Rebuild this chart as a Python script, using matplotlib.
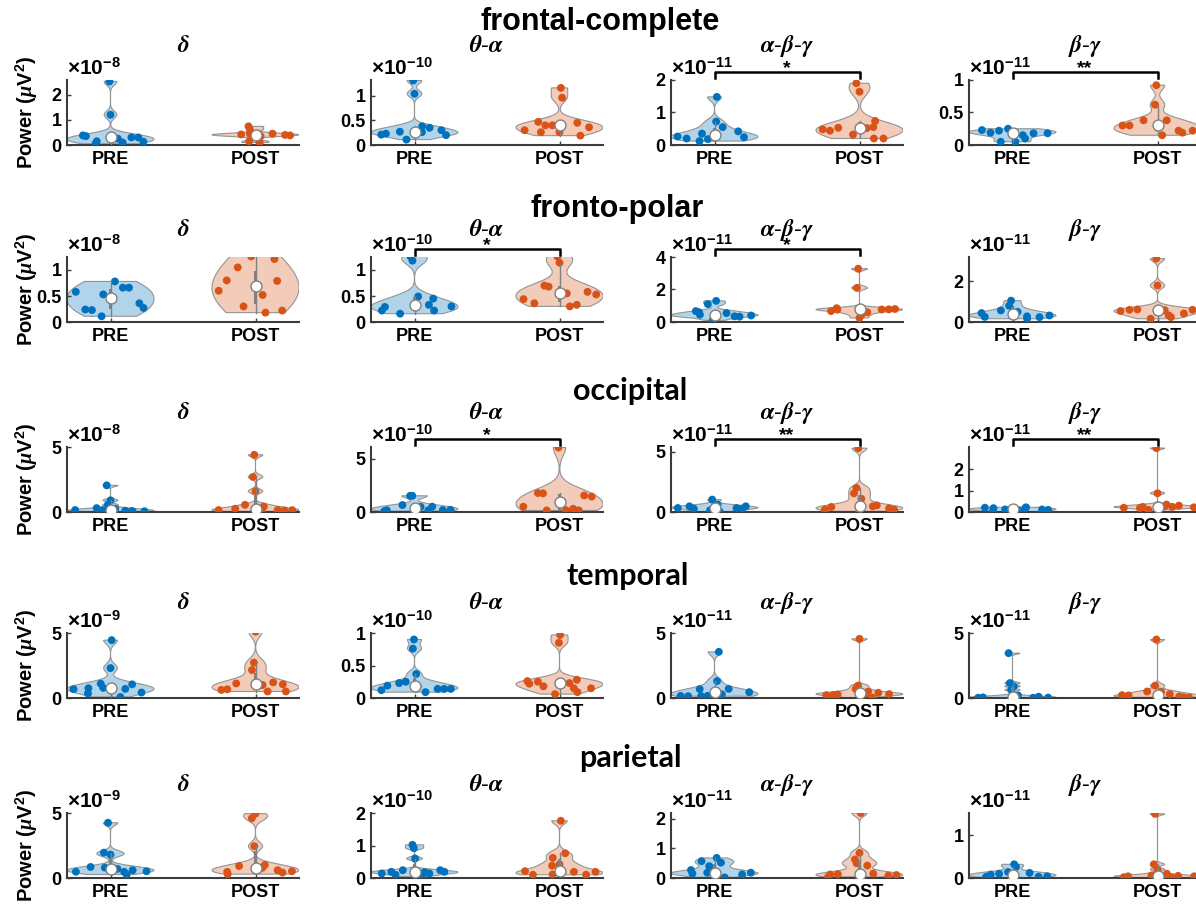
import numpy as np
import matplotlib
matplotlib.use('Agg')
import matplotlib.pyplot as plt
from matplotlib.colors import to_rgba

plt.rcParams['font.family'] = ['Liberation Sans', 'DejaVu Sans']
plt.rcParams['font.weight'] = 'bold'
plt.rcParams['mathtext.fontset'] = 'custom'
plt.rcParams['mathtext.rm'] = 'Liberation Sans:bold'
plt.rcParams['mathtext.bf'] = 'Liberation Sans:bold'
plt.rcParams['mathtext.it'] = 'Liberation Serif:italic'
plt.rcParams['mathtext.fallback'] = 'stix'

# ---------------- data ----------------
regions = ['frontal-complete', 'fronto-polar', 'occipital', 'temporal', 'parietal']
bands = [r'$\delta$', r'$\theta$-$\alpha$', r'$\alpha$-$\beta$-$\gamma$', r'$\beta$-$\gamma$']
groups = ['PRE', 'POST']

exponents = [[-8, -10, -11, -11],
             [-8, -10, -11, -11],
             [-8, -10, -11, -11],
             [-9, -10, -11, -11],
             [-9, -10, -11, -11]]

ytick_values = [[[0, 1, 2], [0, 0.5, 1], [0, 1, 2], [0, 0.5, 1]],
                [[0, 0.5, 1], [0, 0.5, 1], [0, 2, 4], [0, 2]],
                [[0, 5], [0, 5], [0, 5], [0, 1, 2]],
                [[0, 5], [0, 0.5, 1], [0, 5], [0, 5]],
                [[0, 5], [0, 1, 2], [0, 1, 2], [0, 1]]]

ylim_tops = [[2.58, 1.32, 2.0, 1.0],
             [1.25, 1.25, 4.0, 3.2],
             [5.0, 6.1, 5.4, 3.05],
             [5.0, 1.0, 5.0, 5.0],
             [5.0, 2.0, 2.2, 1.52]]

significance = [['', '', '*', '**'],
                ['', '*', '*', ''],
                ['', '*', '**', '**'],
                ['', '', '', ''],
                ['', '', '', '']]

# values in units of 10^exponent, per band (delta, theta-alpha, alpha-beta-gamma, beta-gamma)
frontal_complete_pre = [
    [0.38, 0.35, 0.05, 0.15, 2.52, 1.2, 0.25, 0.1, 0.3, 0.3, 0.13],
    [0.21, 0.23, 0.11, 0.27, 1.31, 1.04, 0.26, 0.38, 0.35, 0.3, 0.2],
    [0.26, 0.2, 0.12, 0.35, 0.18, 0.3, 0.72, 1.48, 0.55, 0.24, 0.42],
    [0.23, 0.05, 0.19, 0.22, 0.25, 0.2, 0.05, 0.15, 0.18, 0.1, 0.18]]
frontal_complete_post = [
    [0.74, 0.62, 0.15, 0.42, 0.45, 0.38, 0.35, 0.1, 0.45, 0.4, 0.38],
    [0.30, 0.47, 0.26, 0.40, 0.40, 0.26, 1.16, 0.96, 0.45, 0.36, 0.19],
    [0.48, 0.44, 0.53, 1.9, 0.32, 1.64, 0.52, 0.55, 0.2, 0.74, 0.2],
    [0.3, 0.3, 0.38, 0.62, 0.92, 0.27, 0.15, 0.38, 0.22, 0.19, 0.22]]
fronto_polar_pre = [
    [0.58, 0.24, 0.23, 0.11, 0.53, 0.46, 0.78, 0.66, 0.66, 0.36, 0.27],
    [0.22, 0.29, 0.16, 1.26, 1.18, 0.35, 0.49, 0.33, 0.22, 0.45, 0.3],
    [0.67, 1.1, 0.6, 0.45, 0.1, 0.4, 1.3, 0.55, 0.35, 0.33, 0.4],
    [0.44, 0.25, 0.57, 0.8, 1.05, 0.37, 0.5, 0.28, 0.16, 0.24, 0.32]]
fronto_polar_post = [
    [0.6, 0.8, 1.05, 0.3, 1.26, 0.69, 0.52, 0.18, 0.79, 1.21, 0.22],
    [0.44, 0.36, 0.7, 0.68, 1.26, 1.14, 0.55, 0.3, 0.33, 0.58, 0.53],
    [0.67, 0.85, 0.76, 2.1, 3.28, 0.25, 0.45, 0.6, 0.77, 0.78, 0.8],
    [0.54, 0.6, 0.62, 0.16, 3.12, 1.8, 0.58, 0.33, 0.24, 0.42, 0.6]]
occipital_pre = [
    [0.15, 0.3, 2.05, 0.55, 0.14, 0.9, 0.25, 0.1, 0.08, 0.02, 0.06],
    [0.08, 0.16, 0.65, 1.52, 1.52, 0.4, 0.48, 0.16, 0.5, 0.18, 0.2],
    [0.33, 0.47, 0.28, 1.03, 0.14, 0.42, 0.62, 0.03, 0.33, 0.28, 0.47],
    [0.2, 0.04, 0.18, 0.01, 0.12, 0.11, 0.08, 0.18, 0.22, 0.12, 0.1]]
occipital_post = [
    [0.15, 0.55, 0.25, 2.7, 4.4, 1.6, 0.05, 0.42, 0.15, 0.12, 0.14],
    [0.5, 1.78, 1.75, 0.15, 6.05, 0.95, 0.17, 0.3, 0.15, 1.55, 1.45],
    [0.2, 0.42, 1.55, 2.0, 5.3, 0.05, 1.1, 0.47, 0.55, 0.3, 0.2],
    [0.2, 0.1, 0.18, 0.24, 3.0, 0.88, 0.26, 0.24, 0.35, 0.3, 0.22]]
temporal_pre = [
    [0.68, 0.35, 0.75, 1.1, 0.78, 2.3, 4.45, 0.7, 0.08, 1.05, 0.42],
    [0.12, 0.19, 0.23, 0.25, 0.76, 0.9, 0.18, 0.37, 0.09, 0.14, 0.14, 0.14],
    [0.16, 0.14, 0.68, 0.15, 0.17, 0.5, 0.28, 1.3, 0.7, 3.55, 0.45],
    [0.02, 0.05, 3.45, 1.15, 0.62, 0.08, 0.9, 0.2, 0.02, 0.1, 0.03]]
temporal_post = [
    [0.62, 0.67, 1.12, 2.15, 2.72, 5.1, 1.0, 0.5, 1.2, 1.05, 0.5],
    [0.26, 0.22, 0.25, 0.18, 0.06, 0.85, 0.97, 0.23, 0.15, 0.28, 0.09, 0.15],
    [0.22, 0.22, 0.27, 0.7, 0.95, 4.55, 0.35, 0.49, 0.4, 0.3, 0.03],
    [0.22, 0.2, 0.5, 0.95, 4.5, 0.1, 0.48, 0.3, 0.12, 0.06, 0.05]]
parietal_pre = [
    [0.48, 0.85, 1.95, 4.25, 0.8, 1.8, 0.7, 0.47, 0.6, 0.27, 0.52],
    [0.14, 0.1, 0.19, 0.24, 1.02, 0.92, 0.6, 0.18, 0.14, 0.04, 0.19, 0.24],
    [0.27, 0.57, 0.15, 0.4, 0.18, 0.15, 0.68, 0.52, 0.02, 0.12, 0.18],
    [0.01, 0.03, 0.08, 0.1, 0.14, 0.08, 0.32, 0.26, 0.12, 0.03, 0.04]]
parietal_post = [
    [0.3, 0.47, 0.92, 4.6, 2.45, 4.95, 0.78, 1.0, 0.6, 0.42, 0.52],
    [0.21, 0.1, 0.62, 0.38, 0.11, 0.42, 1.76, 0.19, 0.76, 0.1, 0.19],
    [0.04, 0.12, 0.13, 0.63, 0.5, 0.85, 2.2, 0.15, 0.42, 0.08, 0.1],
    [0.02, 0.04, 0.32, 1.5, 0.06, 0.2, 0.01, 0.02, 0.05, 0.1, 0.04]]

pre_data = [frontal_complete_pre, fronto_polar_pre, occipital_pre, temporal_pre, parietal_pre]
post_data = [frontal_complete_post, fronto_polar_post, occipital_post, temporal_post, parietal_post]

# ---------------- style / layout ----------------
colors = ['#0072BD', '#D95319']
GRAY = (0.5, 0.5, 0.5)
AXCOL = '#3c3c3c'
W, H = 1196, 905
col_left_px = [67, 371, 671, 969]
ax_w_px, ax_h_px = 232, 65
row_bottom_px = [145, 322, 512, 698, 878]
row_title_y_px = [22, 209, 391, 576, 758]
row_title_x_px = [600, 617, 630, 628, 630]
subtitle_gap_px = [34, 27, 34, 30, 28]
title_fonts = [['Liberation Sans'], ['Liberation Sans'], ['Lato', 'Liberation Sans'],
               ['Lato', 'Liberation Sans'], ['Lato', 'Liberation Sans']]


def kde(data, grid):
    n = len(data)
    med = np.median(data)
    sig = np.median(np.abs(data - med)) / 0.6745
    if sig <= 0:
        sig = np.ptp(data)
    bw = sig * (4.0 / (3.0 * n)) ** 0.2
    z = (grid[:, None] - data[None, :]) / bw
    return np.exp(-0.5 * z ** 2).sum(axis=1) / (n * bw * np.sqrt(2 * np.pi))


def violin(ax, vals, pos, color):
    data = np.asarray(vals, dtype=float)
    grid = np.linspace(data.min(), data.max(), 300)
    dens = kde(data, grid)
    hw = 0.3 * dens / dens.max()
    xs = np.r_[pos + hw, (pos - hw)[::-1]]
    ys = np.r_[grid, grid[::-1]]
    ax.fill(xs, ys, facecolor=to_rgba(color, 0.3), edgecolor=(0.58, 0.58, 0.58),
            lw=0.8, zorder=1)
    n = len(data)
    frac = np.linspace(-0.85, 0.85, n)
    local = np.interp(data, grid, hw)
    ax.scatter(pos + frac * local, data, s=32, color=color, edgecolors='none', zorder=3)
    q1, med, q3 = np.percentile(data, [25, 50, 75], method='hazen')
    iqr = q3 - q1
    lo = data[data >= q1 - 1.5 * iqr].min()
    hi = data[data <= q3 + 1.5 * iqr].max()
    ax.plot([pos, pos], [lo, hi], color=GRAY, lw=1.0, zorder=4)
    bwid = 0.013
    ax.fill([pos - bwid, pos + bwid, pos + bwid, pos - bwid], [q1, q1, q3, q3],
            color=GRAY, lw=0, zorder=5)
    ax.scatter([pos], [med], s=62, facecolor='white', edgecolor=GRAY, lw=1.0, zorder=6)


fig = plt.figure(figsize=(W / 100, H / 100), dpi=100)

for r, region in enumerate(regions):
    yb = row_bottom_px[r]
    for c, band in enumerate(bands):
        ax = fig.add_axes([col_left_px[c] / W, 1 - yb / H, ax_w_px / W, ax_h_px / H])
        for g in range(2):
            vals = (pre_data if g == 0 else post_data)[r][c]
            violin(ax, vals, g + 1, colors[g])
        ax.set_xlim(0.7, 2.3)
        ax.set_ylim(0, ylim_tops[r][c])
        ax.set_xticks([1, 2])
        ax.set_xticklabels(groups, fontsize=13, fontweight='bold')
        ticks = ytick_values[r][c]
        ax.set_yticks(ticks)
        ax.set_yticklabels([f'{t:g}' for t in ticks], fontsize=13, fontweight='bold')
        for s in ['top', 'right']:
            ax.spines[s].set_visible(False)
        for s in ['left', 'bottom']:
            ax.spines[s].set_color(AXCOL)
            ax.spines[s].set_linewidth(1.5)
        ax.tick_params(direction='in', length=3, width=1, color=AXCOL, pad=4)
        ax.patch.set_alpha(0)
        ax.text(0.5, 1 + subtitle_gap_px[r] / ax_h_px, band, transform=ax.transAxes,
                ha='center', va='center', fontsize=17, fontweight='normal',
                math_fontfamily='stix')
        ax.text(0.0, 1.02, r'$\times10^{%d}$' % exponents[r][c], transform=ax.transAxes,
                ha='left', va='bottom', fontsize=15)
        sig = significance[r][c]
        if sig:
            tr = ax.get_xaxis_transform()
            y_line = 1 + 8 / ax_h_px
            y_foot = 1 + 1.5 / ax_h_px
            ax.plot([1, 1, 2, 2], [y_foot, y_line, y_line, y_foot], transform=tr,
                    color='k', lw=1.8, clip_on=False, zorder=7)
            ax.text(1.5, y_line + 3 / ax_h_px, sig, transform=tr, ha='center',
                    va='center', fontsize=14, fontweight='bold', zorder=7)
    fig.text(27 / W, 1 - (yb - ax_h_px / 2) / H, r'Power ($\mu$V$^2$)', rotation=90,
             ha='center', va='center', fontsize=14.5, fontweight='bold')
    fig.text(row_title_x_px[r] / W, 1 - row_title_y_px[r] / H, region, ha='center',
             va='center', fontsize=22, fontweight='bold', family=title_fonts[r])

fig.savefig('out.png', dpi=100)
